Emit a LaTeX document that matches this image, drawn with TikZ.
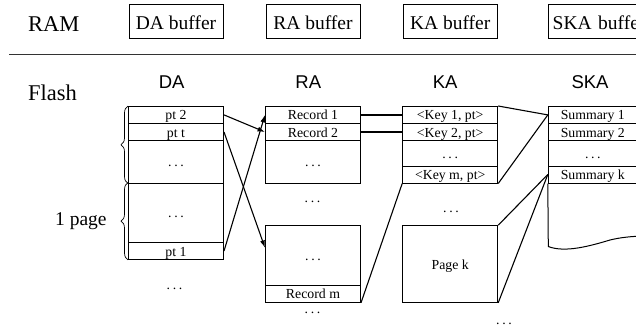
\documentclass[tikz,border=0pt]{standalone}
\usepackage{fontspec}
\setmainfont{Liberation Serif}
\setsansfont{Liberation Sans}
\usetikzlibrary{arrows.meta,decorations.pathreplacing,calc}
\newcommand\mydots{.\kern2.6pt.\kern2.6pt.}
\begin{document}
\begin{tikzpicture}[x=1pt,y=-1pt,
  big/.style={font=\fontsize{22.5}{26}\selectfont, inner sep=0},
  buf/.style={draw, line width=1pt, minimum width=94, minimum height=34.3, inner sep=0, text height=18, text depth=1.6, font=\fontsize{19.5}{22}\selectfont},
  colhead/.style={font=\sffamily\fontsize{18.5}{21}\selectfont, inner sep=0, anchor=base},
  cell/.style={draw, line width=1pt, minimum width=95, inner sep=0, text height=11, text depth=1, font=\fontsize{13.8}{15}\selectfont},
  skacell/.style={cell, minimum width=89},
  dotsnode/.style={font=\fontsize{13.8}{15}\selectfont, inner sep=0, anchor=base},
  conn/.style={line width=1.1pt},
  thickconn/.style={line width=2.2pt},
  arr/.style={line width=1.1pt, -{Latex[length=7.5pt,width=5pt]}},
  bracestyle/.style={line width=0.7pt, decorate, decoration={brace, amplitude=7pt}},
]
\useasboundingbox (0,0) rectangle (636,327);
\clip (0,0) rectangle (636,327);

% RAM row
\node[big, anchor=west] (ram) at (28,24.5) {RAM};
\node[buf] (dabuf) at (176,21.15) {DA buffer};
\node[buf] (rabuf) at (313,21.15) {RA buffer};
\node[buf] (kabuf) at (450.2,21.15) {KA buffer};
\node[buf, inner xsep=4.4pt, text width=100pt, align=left] (skabuf) at (602.7,21.15) {SKA buffer};

% separator
\coordinate (sepl) at (9.3,54);
\coordinate (sepr) at (640,54);
\draw[line width=0.9pt, black!80] (sepl) -- (sepr);

% Flash
\node[big, anchor=west] (flash) at (28,93.3) {Flash};
\node[colhead] (hda) at (171.7,88.3) {DA};
\node[colhead] (hra) at (308.3,88.3) {RA};
\node[colhead] (hka) at (445.2,88.3) {KA};
\node[colhead] (hska) at (590,88.3) {SKA};

% DA column
\node[cell, minimum height=16.8] (pt2) at (176,114.9) {pt 2};
\node[cell, minimum height=17.4] (ptt) at (176,132) {pt t};
\node[cell, minimum height=42.3] (da3) at (176,161.85) {\mydots};
\node[cell, minimum height=59.7] (da4) at (176,212.85) {\mydots};
\node[cell, minimum height=16.6] (pt1) at (176,251) {pt 1};
\node[dotsnode] (dadots) at (174.5,289) {\mydots};

% braces
\draw[bracestyle] (da3.south west) -- (pt2.north west);
\draw[bracestyle] (pt1.south west) -- (da4.north west);
\node[font=\fontsize{19.5}{22}\selectfont, anchor=base west, inner sep=0] (page) at (55,225) {1 page};

% RA column
\node[cell, minimum height=16.8] (rec1) at (313,114.9) {Record 1};
\node[cell, minimum height=17.4] (rec2) at (313,132) {Record 2};
\node[cell, minimum height=42.3] (ra3) at (313,161.85) {\mydots};
\node[dotsnode] (radots1) at (312.5,202.7) {\mydots};
\node[cell, minimum height=59.3] (ra4) at (313,255.35) {\mydots};
\node[cell, minimum height=17.3] (recm) at (313,293.65) {Record m};
\node[dotsnode] (radots2) at (312.5,313.3) {\mydots};

% KA column
\node[cell, minimum height=16.8] (key1) at (450.2,114.9) {<Key 1, pt>};
\node[cell, minimum height=17.4] (key2) at (450.2,132) {<Key 2, pt>};
\node[cell, minimum height=25.3] (ka3) at (450.2,153.35) {\mydots};
\node[cell, minimum height=17] (keym) at (450.2,174.5) {<Key m, pt>};
\node[dotsnode] (kadots1) at (451,212.7) {\mydots};
\node[cell, minimum height=76.6] (pagek) at (450.2,264) {Page k};
\node[dotsnode] (kadots2) at (504,324) {\mydots};

% SKA column
\node[skacell, minimum height=16.8] (s1) at (592.8,114.9) {Summary 1};
\node[skacell, minimum height=17.4] (s2) at (592.8,132) {Summary 2};
\node[skacell, minimum height=25.3] (s3) at (592.8,153.35) {\mydots};
\node[skacell, minimum height=17] (sk) at (592.8,174.5) {Summary k};
\coordinate (skbl) at (548.3,246.5);
\coordinate (skbr) at (645,236);
\draw[line width=1pt] (sk.south west) -- (skbl)
  .. controls (565,253) and (590,246) .. (610,240)
  .. controls (620,237.5) and (632,236.2) .. (skbr);

% DA -> RA arrows
\draw[arr] (pt2.east) -- (rec2.west);
\draw[arr] (pt1.east) -- (rec1.west);
\draw[arr] (ptt.east) -- ([yshift=7.5pt]ra4.west);

% RA -> KA
\draw[thickconn] (rec1.east) -- (key1.west);
\draw[thickconn] (rec2.east) -- (key2.west);
\draw[conn] (recm.south east) -- (keym.south west);

% KA -> SKA
\draw[conn] (key1.north east) -- (s1.west);
\draw[conn] (keym.south east) -- (s1.west);
\draw[conn] (pagek.north east) -- (sk.west);
\draw[conn] (pagek.south east) -- (sk.west);
\end{tikzpicture}
\end{document}
